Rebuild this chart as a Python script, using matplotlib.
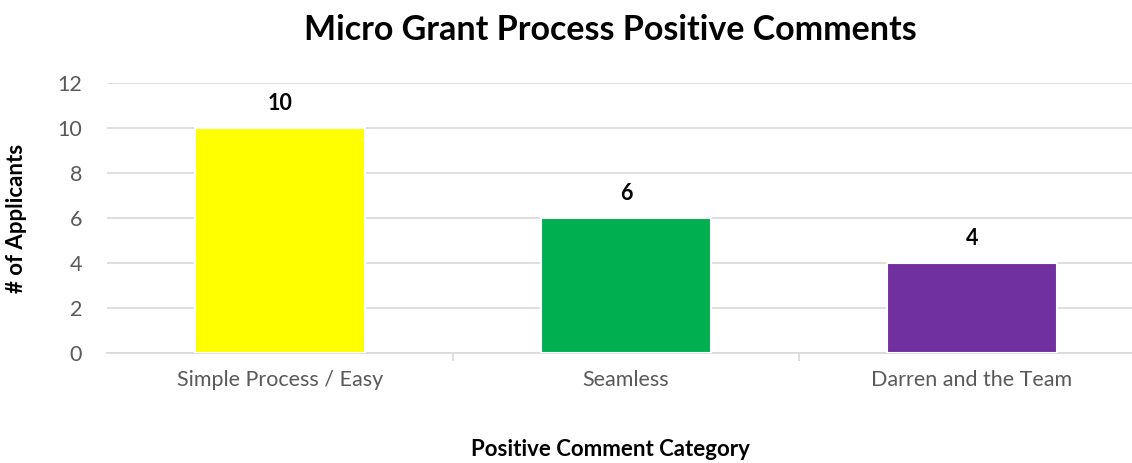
import matplotlib
matplotlib.use("Agg")
import matplotlib.pyplot as plt

# chart data
categories = ["Simple Process / Easy", "Seamless", "Darren and the Team"]
applicants = [10, 6, 4]
bar_colors = ["#FFFF00", "#00B050", "#7030A0"]
y_ticks = [0, 2, 4, 6, 8, 10, 12]

plt.rcParams["font.family"] = ["Lato", "DejaVu Sans"]

fig = plt.figure(figsize=(11.32, 4.63), dpi=100)
ax = fig.add_axes([107 / 1132, 110 / 463, 1 - 107 / 1132, 270 / 463])

x = range(len(categories))
bars = ax.bar(x, applicants, width=0.49, color=bar_colors, edgecolor="white", linewidth=1.5, zorder=3)

# value labels above bars
for rect, val in zip(bars, applicants):
    ax.annotate(str(val), (rect.get_x() + rect.get_width() / 2, val),
                xytext=(0, 10), textcoords="offset points",
                ha="center", va="bottom", fontsize=15.5, fontweight="bold")

ax.set_ylim(0, 12)
ax.set_xlim(-0.5, 2.5 - 13 / 346)
ax.set_yticks(y_ticks)
ax.set_xticks(list(x))
ax.set_xticklabels(categories)
ax.tick_params(axis="both", colors="#595959", labelsize=15.5, length=0)
ax.tick_params(axis="y", pad=18)
ax.tick_params(axis="x", pad=12)

# category boundary ticks
ax.set_xticks([0.5, 1.5], minor=True)
ax.tick_params(axis="x", which="minor", length=6, color="#D9D9D9", width=1.2)

ax.grid(axis="y", color="#D9D9D9", linewidth=1.2, zorder=0)
for side in ["top", "right", "left"]:
    ax.spines[side].set_visible(False)
ax.spines["bottom"].set_color("#D9D9D9")
ax.spines["bottom"].set_linewidth(1.2)

fig.text(610 / 1132, 1 - 30 / 463, "Micro Grant Process Positive Comments",
         ha="center", va="center", fontsize=24.5, fontweight="bold")
fig.text(17 / 1132, 1 - 218 / 463, "# of Applicants", rotation=90,
         ha="center", va="center", fontsize=16, fontweight="bold")
fig.text(610 / 1132, 1 - 450 / 463, "Positive Comment Category",
         ha="center", va="center", fontsize=16, fontweight="bold")

fig.savefig("out.png", dpi=100)
